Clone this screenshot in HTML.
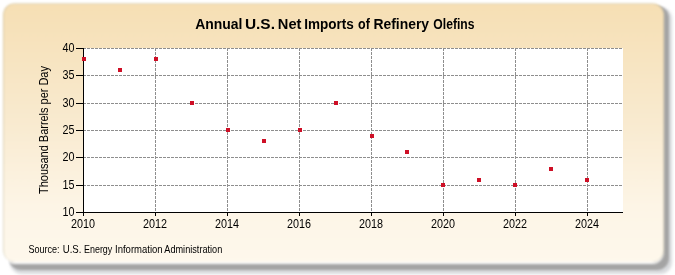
<!DOCTYPE html>
<html><head><meta charset="utf-8">
<style>
html,body{margin:0;padding:0;background:#fff;width:675px;height:275px;overflow:hidden;}
#shadow{position:absolute;left:9px;top:6px;width:659.5px;height:264px;border-radius:12px;background:#A4A4A4;filter:blur(1.0px);}
#shadow2{position:absolute;left:10px;top:7px;width:662px;height:267px;border-radius:12px;background:#D8DADD;filter:blur(1.5px);}
#panel{position:absolute;left:3px;top:3px;width:661px;height:259px;border-radius:12px;background:linear-gradient(to bottom,#F6DFB4 0%,#F9EBD1 48%,#FDF5E6 78%,#FEF8EC 100%);box-shadow:0 1.5px 1px 0 rgba(255,255,255,0.95);border:1px solid rgba(170,160,130,0.35);border-bottom:0;box-sizing:border-box;filter:blur(1.2px);}
svg{position:absolute;left:0;top:0;will-change:transform;}
text{font-family:"Liberation Sans",sans-serif;fill:#000;}
</style></head><body>
<div id="shadow2"></div><div id="shadow"></div>
<div id="panel"></div>
<svg width="675" height="275" viewBox="0 0 675 275">
<rect x="84" y="48" width="539" height="164" fill="#fff"/>
<g stroke="#8e8e8e" stroke-width="1" stroke-dasharray="3 1" shape-rendering="crispEdges">
<line x1="83" y1="185.5" x2="623" y2="185.5"/><line x1="83" y1="157.5" x2="623" y2="157.5"/><line x1="83" y1="130.5" x2="623" y2="130.5"/><line x1="83" y1="103.5" x2="623" y2="103.5"/><line x1="83" y1="75.5" x2="623" y2="75.5"/><line x1="83" y1="48.5" x2="623" y2="48.5"/>
<line x1="155.5" y1="48" x2="155.5" y2="212"/><line x1="227.5" y1="48" x2="227.5" y2="212"/><line x1="299.5" y1="48" x2="299.5" y2="212"/><line x1="371.5" y1="48" x2="371.5" y2="212"/><line x1="443.5" y1="48" x2="443.5" y2="212"/><line x1="515.5" y1="48" x2="515.5" y2="212"/><line x1="587.5" y1="48" x2="587.5" y2="212"/>
</g>
<g stroke="#000" stroke-width="1" shape-rendering="crispEdges">
<line x1="83.5" y1="48" x2="83.5" y2="213"/>
<line x1="83" y1="212.5" x2="623" y2="212.5"/>
<line x1="76" y1="212.5" x2="83" y2="212.5"/><line x1="76" y1="185.5" x2="83" y2="185.5"/><line x1="76" y1="157.5" x2="83" y2="157.5"/><line x1="76" y1="130.5" x2="83" y2="130.5"/><line x1="76" y1="103.5" x2="83" y2="103.5"/><line x1="76" y1="75.5" x2="83" y2="75.5"/><line x1="76" y1="48.5" x2="83" y2="48.5"/>
<line x1="83.5" y1="212" x2="83.5" y2="216"/><line x1="155.5" y1="212" x2="155.5" y2="216"/><line x1="227.5" y1="212" x2="227.5" y2="216"/><line x1="299.5" y1="212" x2="299.5" y2="216"/><line x1="371.5" y1="212" x2="371.5" y2="216"/><line x1="443.5" y1="212" x2="443.5" y2="216"/><line x1="515.5" y1="212" x2="515.5" y2="216"/><line x1="587.5" y1="212" x2="587.5" y2="216"/>
</g>
<g fill="#CE0F26" shape-rendering="crispEdges">
<rect x="82" y="57" width="4" height="4"/><rect x="118" y="68" width="4" height="4"/><rect x="154" y="57" width="4" height="4"/><rect x="190" y="101" width="4" height="4"/><rect x="226" y="128" width="4" height="4"/><rect x="262" y="139" width="4" height="4"/><rect x="298" y="128" width="4" height="4"/><rect x="334" y="101" width="4" height="4"/><rect x="370" y="134" width="4" height="4"/><rect x="405" y="150" width="4" height="4"/><rect x="441" y="183" width="4" height="4"/><rect x="477" y="178" width="4" height="4"/><rect x="513" y="183" width="4" height="4"/><rect x="549" y="167" width="4" height="4"/><rect x="585" y="178" width="4" height="4"/>
</g>
<text transform="translate(195.20 29) scale(0.998 1)" style="font-weight:bold;font-size:14px">Annual</text><text transform="translate(244.90 29) scale(1.104 1)" style="font-weight:bold;font-size:14px">U.S.</text><text transform="translate(277.85 29) scale(1.048 1)" style="font-weight:bold;font-size:14px">Net</text><text transform="translate(304.33 29) scale(0.966 1)" style="font-weight:bold;font-size:14px">Imports</text><text transform="translate(358.01 29) scale(0.892 1)" style="font-weight:bold;font-size:14px">of</text><text transform="translate(373.41 29) scale(0.995 1)" style="font-weight:bold;font-size:14px">Refinery</text><text transform="translate(433.33 29) scale(0.867 1)" style="font-weight:bold;font-size:14px">Olefins</text>
<g style="font-size:12px" text-anchor="end">
<text x="74.5" y="216.5" transform="translate(74.5 0) scale(0.9 1) translate(-74.5 0)">10</text><text x="74.5" y="189.5" transform="translate(74.5 0) scale(0.9 1) translate(-74.5 0)">15</text><text x="74.5" y="161.5" transform="translate(74.5 0) scale(0.9 1) translate(-74.5 0)">20</text><text x="74.5" y="134.5" transform="translate(74.5 0) scale(0.9 1) translate(-74.5 0)">25</text><text x="74.5" y="107.5" transform="translate(74.5 0) scale(0.9 1) translate(-74.5 0)">30</text><text x="74.5" y="79.5" transform="translate(74.5 0) scale(0.9 1) translate(-74.5 0)">35</text><text x="74.5" y="52.5" transform="translate(74.5 0) scale(0.9 1) translate(-74.5 0)">40</text>
</g>
<g style="font-size:12px" text-anchor="middle">
<text x="83" y="228" transform="translate(83 0) scale(0.9 1) translate(-83 0)">2010</text><text x="155" y="228" transform="translate(155 0) scale(0.9 1) translate(-155 0)">2012</text><text x="227" y="228" transform="translate(227 0) scale(0.9 1) translate(-227 0)">2014</text><text x="299" y="228" transform="translate(299 0) scale(0.9 1) translate(-299 0)">2016</text><text x="371" y="228" transform="translate(371 0) scale(0.9 1) translate(-371 0)">2018</text><text x="443" y="228" transform="translate(443 0) scale(0.9 1) translate(-443 0)">2020</text><text x="515" y="228" transform="translate(515 0) scale(0.9 1) translate(-515 0)">2022</text><text x="587" y="228" transform="translate(587 0) scale(0.9 1) translate(-587 0)">2024</text>
</g>
<text transform="translate(48 130) rotate(-90) scale(0.914 1)" text-anchor="middle" style="font-size:12px">Thousand Barrels per Day</text>
<text transform="translate(28.39 253) scale(0.906 1)" style="font-size:10px">Source:</text><text transform="translate(62.74 253) scale(0.961 1)" style="font-size:10px">U.S.</text><text transform="translate(84.0 253) scale(0.895 1)" style="font-size:10px">Energy</text><text transform="translate(115.05 253) scale(0.952 1)" style="font-size:10px">Information</text><text transform="translate(164.30 253) scale(0.917 1)" style="font-size:10px">Administration</text>
</svg>
</body></html>
